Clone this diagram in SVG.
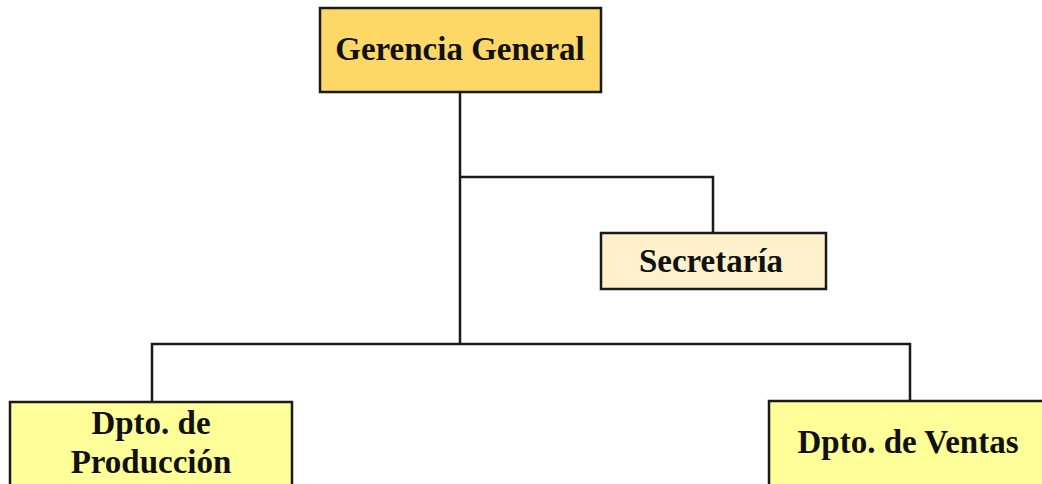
<svg xmlns="http://www.w3.org/2000/svg" width="1042" height="484" viewBox="0 0 1042 484">
  <style>
    .box { stroke: #1a1a1a; stroke-width: 2.5; }
    .lbl { font-family: "Liberation Serif", "Times New Roman", serif; font-weight: bold; font-size: 33px; fill: #111; text-anchor: middle; }
    .wire { fill: none; stroke: #1a1a1a; stroke-width: 2.5; }
  </style>
  <rect width="1042" height="484" fill="#ffffff"/>

  <!-- connectors -->
  <g id="connectors">
    <path class="wire" d="M460 92 V344"/>
    <path class="wire" d="M460 177 H713 V233"/>
    <path class="wire" d="M152 402 V344 H910 V401"/>
  </g>

  <g id="gerencia">
    <rect class="box" x="320" y="8" width="281" height="84" fill="#fdd866"/>
    <text class="lbl" x="460" y="60">Gerencia General</text>
  </g>

  <g id="secretaria">
    <rect class="box" x="601" y="233" width="225" height="56" fill="#fff1cc"/>
    <text class="lbl" x="711" y="272">Secretaría</text>
  </g>

  <g id="produccion">
    <rect class="box" x="10" y="402" width="282" height="100" fill="#ffff99"/>
    <text class="lbl" x="151" y="434">Dpto. de</text>
    <text class="lbl" x="151" y="473">Producción</text>
  </g>

  <g id="ventas">
    <rect class="box" x="769" y="401" width="300" height="100" fill="#ffff99"/>
    <text class="lbl" x="908" y="453">Dpto. de Ventas</text>
  </g>
</svg>
